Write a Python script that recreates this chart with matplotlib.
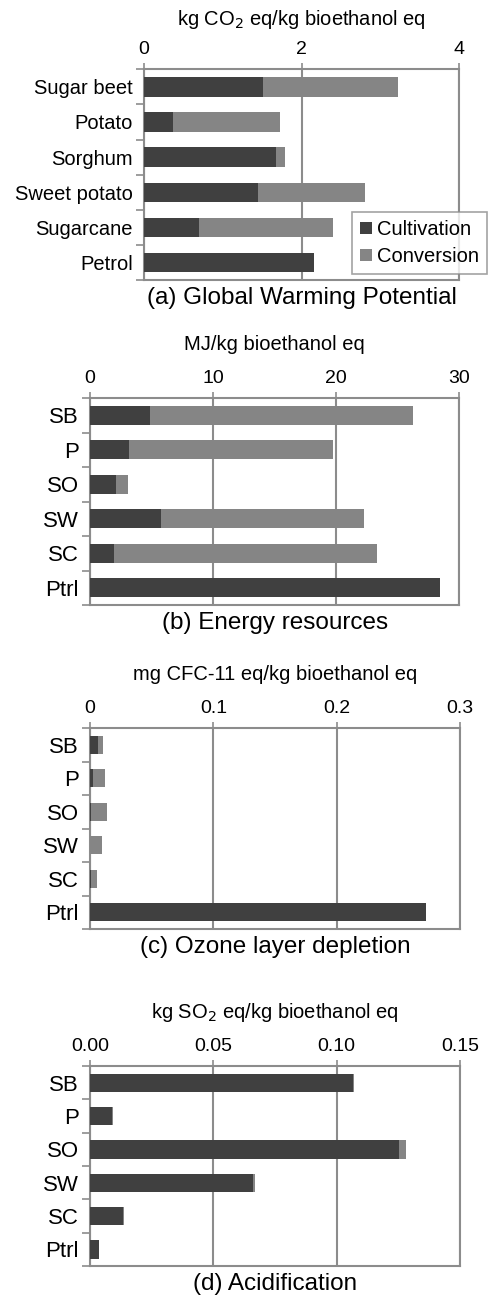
import matplotlib.pyplot as plt
import numpy as np

plt.rcParams['font.family'] = ['Liberation Sans', 'DejaVu Sans']

CULT_COLOR = '#404040'
CONV_COLOR = '#858585'
LINE_COLOR = '#8c8c8c'

long_names = ['Sugar beet', 'Potato', 'Sorghum', 'Sweet potato', 'Sugarcane', 'Petrol']
short_names = ['SB', 'P', 'SO', 'SW', 'SC', 'Ptrl']

# (a) Global warming potential, kg CO2 eq/kg bioethanol eq
gwp_cult = [1.51, 0.37, 1.68, 1.45, 0.70, 2.16]
gwp_conv = [1.71, 1.36, 0.11, 1.36, 1.70, 0.0]

# (b) Energy resources, MJ/kg bioethanol eq
energy_cult = [4.87, 3.17, 2.11, 5.74, 1.95, 28.43]
energy_conv = [21.40, 16.54, 0.98, 16.55, 21.36, 0.0]

# (c) Ozone layer depletion, mg CFC-11 eq/kg bioethanol eq
ozone_cult = [0.0068, 0.0027, 0.0005, 0.0003, 0.0005, 0.2724]
ozone_conv = [0.0040, 0.0097, 0.0130, 0.0094, 0.0049, 0.0]

# (d) Acidification, kg SO2 eq/kg bioethanol eq
acid_cult = [0.1068, 0.0088, 0.1253, 0.0662, 0.0135, 0.0038]
acid_conv = [0.0003, 0.0007, 0.0028, 0.0007, 0.0004, 0.0]

panels = [
    # rect, names, cult, conv, xmax, xticks, ticklabels, xlabel, title, catsize
    ([144 / 496, 1 - 280 / 1296, 315.3 / 496, 210.7 / 1296], long_names,
     gwp_cult, gwp_conv, 4, [0, 2, 4], ['0', '2', '4'],
     'kg CO$_2$ eq/kg bioethanol eq', '(a) Global Warming Potential', 14.5),
    ([90 / 496, 1 - 605 / 1296, 369.3 / 496, 207 / 1296], short_names,
     energy_cult, energy_conv, 30, [0, 10, 20, 30], ['0', '10', '20', '30'],
     'MJ/kg bioethanol eq', '(b) Energy resources', 16),
    ([90 / 496, 1 - 929 / 1296, 370 / 496, 201 / 1296], short_names,
     ozone_cult, ozone_conv, 0.3, [0, 0.1, 0.2, 0.3], ['0', '0.1', '0.2', '0.3'],
     'mg CFC-11 eq/kg bioethanol eq', '(c) Ozone layer depletion', 16),
    ([90 / 496, 1 - 1266 / 1296, 370 / 496, 200 / 1296], short_names,
     acid_cult, acid_conv, 0.15, [0, 0.05, 0.10, 0.15], ['0.00', '0.05', '0.10', '0.15'],
     'kg SO$_2$ eq/kg bioethanol eq', '(d) Acidification', 16),
]

fig = plt.figure(figsize=(4.96, 12.96), dpi=100)

for i, (rect, names, cult, conv, xmax, xticks, xtl, xlabel, title, catsize) in enumerate(panels):
    ax = fig.add_axes(rect)
    y = np.arange(len(names))
    ax.barh(y, cult, height=0.55, color=CULT_COLOR, label='Cultivation', zorder=3)
    ax.barh(y, conv, left=cult, height=0.55, color=CONV_COLOR, label='Conversion', zorder=3)
    ax.set_ylim(len(names) - 0.5, -0.5)
    ax.set_xlim(0, xmax)

    ax.set_yticks(y)
    ax.set_yticklabels(names, fontsize=catsize)
    ax.tick_params(axis='y', which='major', length=0, pad=8)
    ax.set_yticks(np.arange(len(names) + 1) - 0.5, minor=True)
    ax.tick_params(axis='y', which='minor', length=6, width=1.2, color=LINE_COLOR, direction='out')

    ax.xaxis.tick_top()
    ax.xaxis.set_label_position('top')
    ax.set_xticks(xticks)
    ax.set_xticklabels(xtl, fontsize=14)
    ax.tick_params(axis='x', length=4, width=1.2, color=LINE_COLOR, direction='out', pad=4)
    ax.set_xlabel(xlabel, fontsize=14.5, labelpad=12 if i == 0 else 14)

    ax.grid(axis='x', color=LINE_COLOR, linewidth=1.5, zorder=0)
    for s in ax.spines.values():
        s.set_color(LINE_COLOR)
        s.set_linewidth(1.5)

    ax.text(0.5, -0.035, title, transform=ax.transAxes, ha='center', va='top', fontsize=17.5)

    if i == 0:
        leg = ax.legend(loc='upper left', bbox_to_anchor=(352 / 496, 1 - 212 / 1296),
                        bbox_transform=fig.transFigure, fontsize=14.5, frameon=True,
                        fancybox=False, handlelength=0.6, handleheight=0.6,
                        handletextpad=0.25, borderpad=0.4, labelspacing=0.4,
                        borderaxespad=0)
        leg.get_frame().set_edgecolor(LINE_COLOR)
        leg.get_frame().set_linewidth(1.2)

fig.savefig('out.png', dpi=100)
